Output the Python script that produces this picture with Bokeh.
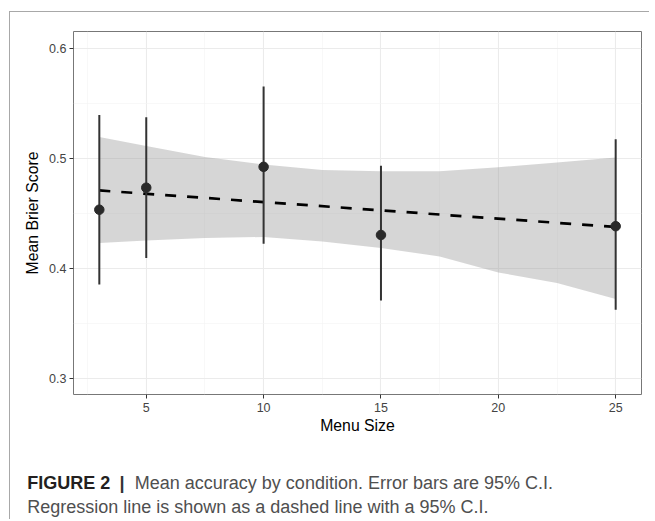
from bokeh.plotting import figure
from bokeh.models import FixedTicker, Range1d
from bokeh.layouts import column
from bokeh.embed import file_html
from bokeh.resources import INLINE
from bokeh.core.properties import value

# ---- data ----
menu_size = [3, 5, 10, 15, 25]
mean_brier = [0.453, 0.473, 0.492, 0.430, 0.438]
ci_low = [0.385, 0.409, 0.422, 0.3705, 0.362]
ci_high = [0.539, 0.537, 0.565, 0.493, 0.517]

band_x = [3, 5, 7.5, 10, 12.5, 15, 17.5, 20, 22.5, 25]
band_upper = [0.519, 0.511, 0.501, 0.494, 0.489, 0.488, 0.488, 0.4915, 0.496, 0.5005]
band_lower = [0.4227, 0.4251, 0.4273, 0.4282, 0.4242, 0.4182, 0.4105, 0.396, 0.3864, 0.3718]

fit_x = [3, 25]
fit_y = [0.4705, 0.4373]

x_ticks = [5, 10, 15, 20, 25]
x_minor = [2.5, 7.5, 12.5, 17.5, 22.5]
y_ticks = [0.3, 0.4, 0.5, 0.6]
y_minor = [0.35, 0.45, 0.55]

x_title = "Menu Size"
y_title = "Mean Brier Score"
cap_bold = "FIGURE 2"
cap_bar = "|"
cap_line1 = "Mean accuracy by condition. Error bars are 95% C.I."
cap_line2 = "Regression line is shown as a dashed line with a 95% C.I."

FONT = "Liberation Sans"
W = 639

p = figure(width=W, height=427,
           x_range=Range1d(1.9, 26.1), y_range=Range1d(0.285, 0.615),
           output_backend="svg", toolbar_location=None,
           min_border_left=63, min_border_right=8,
           min_border_top=19, min_border_bottom=45)
p.frame_align = False

p.background_fill_color = "white"
p.border_fill_color = "white"
p.outline_line_color = "#777777"
p.outline_line_width = 1

xt = FixedTicker(ticks=x_ticks, minor_ticks=x_minor)
yt = FixedTicker(ticks=y_ticks, minor_ticks=y_minor)
p.xaxis.ticker = xt
p.yaxis.ticker = yt
p.xgrid.ticker = xt
p.ygrid.ticker = yt

for g in (p.xgrid, p.ygrid):
    g.grid_line_color = "#ebebeb"
    g.grid_line_width = 1.1
    g.minor_grid_line_color = "#f3f3f3"
    g.minor_grid_line_width = 0.6

for ax in (p.xaxis, p.yaxis):
    ax.axis_line_color = None
    ax.major_tick_line_color = "#333333"
    ax.major_tick_line_width = 1
    ax.major_tick_out = 4
    ax.major_tick_in = 0
    ax.minor_tick_line_color = None
    ax.major_label_text_font = FONT
    ax.major_label_text_font_size = "12.5px"
    ax.major_label_text_color = "#444444"
    ax.axis_label_text_font = FONT
    ax.axis_label_text_font_size = "15.8px"
    ax.axis_label_text_font_style = "normal"
    ax.axis_label_text_color = "#000000"

p.xaxis.major_label_standoff = 4
p.xaxis.axis_label_standoff = 2
p.yaxis.major_label_standoff = 3
p.yaxis.axis_label_standoff = 5

p.xaxis.axis_label = x_title
p.yaxis.axis_label = y_title

# confidence ribbon
p.varea(x=band_x, y1=band_lower, y2=band_upper, fill_color="#999999", fill_alpha=0.4)
# regression line
p.line(fit_x, fit_y, line_color="black", line_width=2.7, line_dash="11 11")
# error bars
p.segment(x0=menu_size, y0=ci_low, x1=menu_size, y1=ci_high,
          line_color="#333333", line_width=2)
# means
p.scatter(menu_size, mean_brier, size=9.5, fill_color="#2a2a2a", line_color="#2a2a2a")

# caption panel
CH = 80
cap = figure(width=W, height=CH, x_range=Range1d(0, W), y_range=Range1d(0, CH),
             output_backend="svg", toolbar_location=None,
             x_axis_type=None, y_axis_type=None,
             min_border_left=0, min_border_right=0, min_border_top=0, min_border_bottom=0)
cap.frame_align = False
cap.grid.visible = False
cap.outline_line_color = None
cap.background_fill_color = "white"
cap.border_fill_color = "white"

Y1, Y2 = 36.5, 12.3
FS = "18px"
cap.text(x=[16.7], y=[Y1], text=[cap_bold], text_font=value(FONT),
         text_font_size=value(FS), text_font_style=value("bold"),
         text_color="#231f20", text_baseline="alphabetic")
cap.text(x=[109], y=[Y1], text=[cap_bar], text_font=value(FONT),
         text_font_size=value(FS), text_font_style=value("bold"),
         text_color="#333333", text_baseline="alphabetic")
cap.text(x=[124.3], y=[Y1], text=[cap_line1], text_font=value(FONT),
         text_font_size=value(FS),
         text_color="#4f4f4f", text_baseline="alphabetic")
cap.text(x=[16.7], y=[Y2], text=[cap_line2], text_font=value(FONT),
         text_font_size=value(FS),
         text_color="#4f4f4f", text_baseline="alphabetic")

layout = column(p, cap, spacing=0,
                styles={"border-top": "1px solid #a8a8a8",
                        "border-left": "1px solid #a8a8a8",
                        "margin-top": "11px", "margin-left": "9px"})

open("out.html", "w").write(file_html(layout, INLINE))
